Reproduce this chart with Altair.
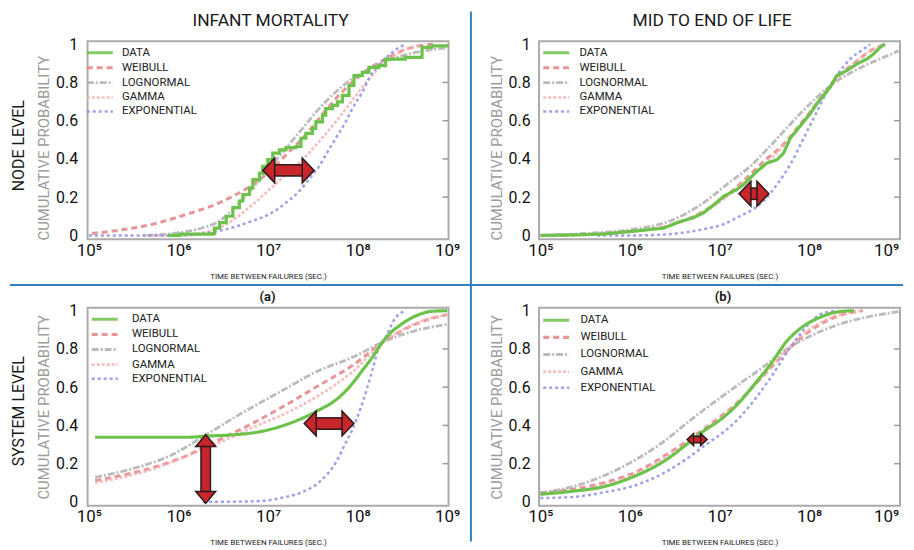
import altair as alt
import pandas as pd

# ---------------- values (x as log10 of seconds) -------------
SERIES = ["DATA", "WEIBULL", "LOGNORMAL", "GAMMA", "EXPONENTIAL"]
COLORS = ["#6cc24a", "#e28484", "#b0b0b0", "#f4b3b3", "#8e8ee6"]
DASHES = [[1, 0], [6, 4], [7, 2, 2, 2], [3, 2], [3, 3]]
WIDTHS = [3.2, 2.5, 2.5, 1.3, 2.2]

X_TICKS = [5, 6, 7, 8, 9]
X_TICK_LABELS = ["10⁵", "10⁶", "10⁷", "10⁸", "10⁹"]
Y_TICKS = [0, 0.2, 0.4, 0.6, 0.8, 1]
Y_TICK_LABELS = ["0", "0.2", "0.4", "0.6", "0.8", "1"]

COL_TITLES = ["INFANT MORTALITY", "MID TO END OF LIFE"]
ROW_TITLES = ["NODE LEVEL", "SYSTEM LEVEL"]
SUB_LABELS = ["(a)", "(b)"]
Y_TITLE = "CUMULATIVE PROBABILITY"
X_TITLE = "TIME BETWEEN FAILURES (SEC.)"

# Panel A: node level, infant mortality
A_DATA_X = [5.885, 6.015, 6.385, 6.404, 6.459, 6.533, 6.607, 6.681, 6.719, 6.793, 6.83, 6.904, 6.941,
            6.996, 7.052, 7.126, 7.2, 7.311, 7.367, 7.422, 7.496, 7.533, 7.607, 7.644, 7.719, 7.774,
            7.83, 7.904, 7.959, 8.052, 8.126, 8.237, 8.311, 8.533, 8.681, 8.719, 8.83, 9.0]
A_DATA_Y = [0.0, 0.007, 0.01, 0.038, 0.067, 0.10, 0.145, 0.18, 0.214, 0.249, 0.292, 0.326, 0.361,
            0.396, 0.43, 0.447, 0.459, 0.465, 0.508, 0.534, 0.56, 0.594, 0.629, 0.663, 0.68, 0.698,
            0.732, 0.784, 0.836, 0.853, 0.879, 0.888, 0.922, 0.931, 0.931, 0.983, 0.991, 1.0]
A_WEIBULL_X = [5.033, 5.348, 5.719, 6.089, 6.459, 6.644, 6.83, 7.015, 7.2, 7.385, 7.57, 7.756, 7.941,
               8.126, 8.311, 8.496, 8.681, 8.867]
A_WEIBULL_Y = [0.01, 0.028, 0.059, 0.11, 0.171, 0.214, 0.266, 0.335, 0.421, 0.508, 0.611, 0.715, 0.801,
               0.87, 0.922, 0.965, 0.991, 1.0]
A_LOGNORMAL_X = [5.644, 6.0, 6.274, 6.459, 6.644, 6.83, 7.015, 7.2, 7.385, 7.57, 7.756, 7.941, 8.126,
                 8.311, 8.68, 9.0]
A_LOGNORMAL_Y = [0.0, 0.014, 0.04, 0.076, 0.154, 0.249, 0.352, 0.456, 0.56, 0.663, 0.75, 0.82, 0.87,
                 0.91, 0.96, 0.98]
A_GAMMA_X = [5.6, 6.0, 6.459, 6.644, 6.83, 7.015, 7.2, 7.385, 7.57, 7.756, 7.941, 8.126, 8.311, 8.496, 8.68]
A_GAMMA_Y = [0.0, 0.0, 0.041, 0.093, 0.162, 0.24, 0.318, 0.396, 0.491, 0.594, 0.706, 0.819, 0.905, 0.965, 0.995]
A_EXPO_X = [5.0, 5.644, 6.0, 6.459, 6.83, 7.015, 7.2, 7.348, 7.496, 7.57, 7.644, 7.756, 7.867, 7.941,
            8.052, 8.126, 8.237, 8.385, 8.533]
A_EXPO_Y = [0.0, 0.0, 0.0, 0.024, 0.076, 0.111, 0.171, 0.231, 0.317, 0.361, 0.421, 0.508, 0.594, 0.663,
            0.749, 0.819, 0.888, 0.957, 1.0]

# Panel B: node level, mid to end of life
B_DATA_X = [5.004, 5.338, 5.709, 6.081, 6.378, 6.526, 6.712, 6.824, 6.936, 7.047, 7.121, 7.195, 7.269,
            7.344, 7.418, 7.529, 7.641, 7.715, 7.789, 7.864, 7.938, 8.012, 8.086, 8.161, 8.235, 8.309,
            8.421, 8.532, 8.643, 8.718, 8.792, 8.848]
B_DATA_Y = [0.0, 0.002, 0.007, 0.024, 0.038, 0.067, 0.093, 0.119, 0.16, 0.205, 0.223, 0.24, 0.266,
            0.301, 0.335, 0.378, 0.396, 0.43, 0.508, 0.551, 0.594, 0.637, 0.689, 0.732, 0.775, 0.836,
            0.862, 0.896, 0.922, 0.948, 0.983, 1.0]
B_WEIBULL_X = [5.0, 5.5, 6.0, 6.5, 7.0, 7.3, 7.5, 7.7, 7.9, 8.1, 8.3, 8.5, 8.7, 8.85]
B_WEIBULL_Y = [0.0, 0.005, 0.02, 0.06, 0.18, 0.3, 0.39, 0.47, 0.58, 0.7, 0.82, 0.9, 0.97, 1.0]
B_LOGNORMAL_X = [5.0, 5.5, 6.0, 6.45, 6.82, 7.08, 7.34, 7.57, 7.94, 8.23, 8.5, 8.68, 9.0]
B_LOGNORMAL_Y = [0.0, 0.01, 0.03, 0.076, 0.17, 0.266, 0.36, 0.47, 0.655, 0.78, 0.86, 0.9, 0.965]
B_GAMMA_X = [5.0, 5.5, 6.0, 6.5, 7.0, 7.3, 7.5, 7.7, 7.9, 8.1, 8.3, 8.5, 8.7, 8.85]
B_GAMMA_Y = [0.0, 0.005, 0.02, 0.06, 0.175, 0.29, 0.37, 0.46, 0.57, 0.69, 0.81, 0.9, 0.97, 1.0]
B_EXPO_X = [5.635, 6.081, 6.452, 6.824, 7.047, 7.195, 7.344, 7.492, 7.641, 7.789, 7.938, 8.086, 8.198,
            8.309, 8.458, 8.606, 8.681]
B_EXPO_Y = [0.0, 0.0, 0.007, 0.033, 0.059, 0.093, 0.128, 0.18, 0.266, 0.37, 0.508, 0.646, 0.75,
            0.836, 0.922, 0.974, 1.0]

# Panel C: system level, infant mortality
C_DATA_X = [5.07, 6.089, 6.311, 6.644, 6.83, 7.015, 7.2, 7.385, 7.57, 7.756, 7.941, 8.052, 8.163,
            8.274, 8.348, 8.459, 8.57, 8.681, 8.83, 9.0]
C_DATA_Y = [0.338, 0.338, 0.344, 0.352, 0.361, 0.378, 0.404, 0.438, 0.481, 0.533, 0.619, 0.687, 0.756,
            0.833, 0.876, 0.919, 0.954, 0.979, 0.997, 1.0]
C_WEIBULL_X = [5.07, 5.348, 5.719, 6.089, 6.459, 6.83, 7.2, 7.57, 7.941, 8.311, 8.681, 9.0]
C_WEIBULL_Y = [0.112, 0.137, 0.18, 0.241, 0.326, 0.412, 0.507, 0.61, 0.713, 0.845, 0.936, 0.98]
C_LOGNORMAL_X = [5.07, 5.533, 5.904, 6.311, 6.644, 7.126, 7.57, 7.941, 8.311, 8.681, 9.0]
C_LOGNORMAL_Y = [0.129, 0.18, 0.241, 0.352, 0.447, 0.574, 0.687, 0.756, 0.842, 0.9, 0.928]
C_GAMMA_X = [5.07, 5.7, 6.089, 6.459, 6.83, 7.2, 7.57, 7.941, 8.311, 8.681, 9.0]
C_GAMMA_Y = [0.1, 0.17, 0.24, 0.31, 0.39, 0.464, 0.558, 0.68, 0.845, 0.94, 0.98]
C_EXPO_X = [6.274, 6.83, 7.2, 7.385, 7.57, 7.756, 7.867, 7.941, 8.052, 8.163, 8.237, 8.311, 8.422, 8.533]
C_EXPO_Y = [0.0, 0.003, 0.026, 0.052, 0.103, 0.206, 0.309, 0.378, 0.515, 0.687, 0.808, 0.86, 0.962, 1.0]

# Panel D: system level, mid to end of life
D_DATA_X = [5.0, 5.34, 5.71, 6.08, 6.3, 6.45, 6.67, 6.82, 7.01, 7.2, 7.38, 7.57, 7.75, 7.94, 8.12, 8.31, 8.5]
D_DATA_Y = [0.04, 0.055, 0.08, 0.14, 0.19, 0.235, 0.315, 0.37, 0.43, 0.51, 0.61, 0.72, 0.84, 0.92,
            0.965, 0.993, 1.0]
D_WEIBULL_X = [5.0, 5.34, 5.71, 6.08, 6.45, 6.82, 7.2, 7.57, 7.94, 8.31, 8.6]
D_WEIBULL_Y = [0.045, 0.065, 0.1, 0.16, 0.26, 0.38, 0.52, 0.7, 0.87, 0.97, 1.0]
D_LOGNORMAL_X = [5.0, 5.41, 5.86, 6.3, 6.75, 7.2, 7.5, 7.75, 7.94, 8.31, 8.68, 9.0]
D_LOGNORMAL_Y = [0.048, 0.086, 0.17, 0.29, 0.455, 0.61, 0.71, 0.8, 0.85, 0.925, 0.97, 0.995]
D_GAMMA_X = [5.0, 5.71, 6.08, 6.45, 6.82, 7.2, 7.57, 7.94, 8.31, 8.6]
D_GAMMA_Y = [0.04, 0.09, 0.15, 0.25, 0.37, 0.515, 0.7, 0.88, 0.975, 1.0]
D_EXPO_X = [5.0, 5.34, 5.71, 6.08, 6.45, 6.82, 7.2, 7.57, 7.75, 7.94, 8.12, 8.3]
D_EXPO_Y = [0.02, 0.025, 0.05, 0.09, 0.17, 0.29, 0.43, 0.65, 0.78, 0.9, 0.98, 1.0]

# Red double arrows: (from, to, at) in data units
A_ARROWS_H = [(6.941, 7.515, 0.34)]
B_ARROWS_H = [(7.217, 7.551, 0.218)]
C_ARROWS_H = [(7.404, 7.959, 0.41)]
C_ARROWS_V = [(6.304, -0.008, 0.352)]
D_ARROWS_H = [(6.638, 6.861, 0.326)]

RIGHT_TICKS = [0.2, 0.4, 0.6, 0.8]

# ---------------- styling -------------
FONT = "Roboto"
W, H = 363, 199
XDOM = [4.985, 9.015]
YDOM = [-0.02, 1.015]
RED = "#c9252c"
DARK = "#2a1a1a"
BLUE = "#2f7fc1"


def label_expr(values, labels):
    expr = "''"
    for v, lab in reversed(list(zip(values, labels))):
        expr = f"datum.value == {v} ? '{lab}' : ({expr})"
    return expr


XEXPR = label_expr(X_TICKS, X_TICK_LABELS)
YEXPR = label_expr(Y_TICKS, Y_TICK_LABELS)


def x_axis(right):
    kw = dict(values=X_TICKS, labelExpr=XEXPR, title=X_TITLE, grid=False, ticks=False, domain=False,
              labelFont=FONT, labelFontSize=17, labelColor="#111", labelPadding=3,
              titleFont=FONT, titleFontSize=8, titleFontWeight="normal", titleColor="#222",
              titlePadding=14)
    if right:
        kw["labelAlign"] = {"condition": {"test": "datum.value == 9", "value": "right"}, "value": "center"}
    return alt.Axis(**kw)


def y_axis(title_y, right):
    kw = dict(values=Y_TICKS, labelExpr=YEXPR, title=Y_TITLE, grid=False, ticks=False, domain=False,
              labelFont=FONT, labelFontSize=16, labelColor="#111", labelPadding=9 if right else 10,
              titleFont=FONT, titleFontSize=15, titleFontWeight="normal", titleColor="#9c9c9c",
              titlePadding=4)
    if title_y is not None:
        kw["titleY"] = title_y
    return alt.Axis(**kw)


def build_df(pairs):
    rows = []
    for name, (xs, ys) in zip(SERIES, pairs):
        for i, (x, y) in enumerate(zip(xs, ys)):
            rows.append({"series": name, "lx": x, "p": y, "i": i})
    return pd.DataFrame(rows)


def text_layer(txt, x, y, size, weight="normal", angle=0, color="#1a1a1a"):
    mk = dict(font=FONT, fontSize=size, fontWeight=weight, color=color, align="center", baseline="middle")
    if angle:
        mk["angle"] = angle
    return alt.Chart(pd.DataFrame({"t": [txt]})).mark_text(**mk).encode(
        text="t:N", x=alt.value(x), y=alt.value(y))


def panel(pairs, data_interp, leg, title, title_pos, title_size, title_weight, title_y,
          right, h_arrows, v_arrows, row_label=None, row_label_y=105, dividers=False):
    XS = alt.Scale(domain=XDOM, nice=False, zero=False)
    YS = alt.Scale(domain=YDOM, nice=False, zero=False)
    xa = x_axis(right)
    ya = y_axis(title_y, right)

    def xe(f):
        return alt.X(f"{f}:Q", scale=XS, axis=xa)

    def ye(f):
        return alt.Y(f"{f}:Q", scale=YS, axis=ya)

    legend = alt.Legend(orient="none", legendX=leg[0], legendY=leg[1], title=None,
                        symbolType="M -1.9 0 H 1.9", symbolSize=190, labelOffset=leg[2],
                        rowPadding=leg[3], labelFont=FONT, labelFontSize=11.5, labelColor="#222",
                        padding=0)
    enc = dict(
        x=xe("lx"), y=ye("p"),
        color=alt.Color("series:N", scale=alt.Scale(domain=SERIES, range=COLORS), legend=legend),
        strokeDash=alt.StrokeDash("series:N", scale=alt.Scale(domain=SERIES, range=DASHES), legend=legend),
        strokeWidth=alt.StrokeWidth("series:N", scale=alt.Scale(domain=SERIES, range=WIDTHS), legend=legend),
        order=alt.Order("i:Q"),
    )
    df = build_df(pairs)
    fits = alt.Chart(df[df.series != "DATA"]).mark_line(interpolate="monotone", opacity=0.85).encode(**enc)
    data = alt.Chart(df[df.series == "DATA"]).mark_line(interpolate=data_interp).encode(**enc)

    layers = [fits, data]

    ticks = alt.Chart(pd.DataFrame({"p": RIGHT_TICKS})).mark_rule(color="#9a9a9a", strokeWidth=1.5).encode(
        y=ye("p"), x=alt.value(W - 6), x2=alt.value(W))
    layers.append(ticks)

    for (x1, x2, y) in h_arrows:
        adf = pd.DataFrame({"lx": [x1], "lx2": [x2], "p": [y]})
        span = (x2 - x1) * 90
        hl, hh, sw = (12, 12.5, 10) if span > 25 else (6.5, 6, 5)
        L = hl / hh
        size = (2 * hh) ** 2
        inset = hl * 0.8
        base = alt.Chart(adf)
        layers.append(base.mark_rule(color=DARK, strokeWidth=sw + 3, strokeCap="butt", xOffset=inset,
                                     x2Offset=-inset).encode(x=xe("lx"), x2="lx2:Q", y=ye("p")))
        layers.append(base.mark_rule(color=RED, strokeWidth=sw, strokeCap="butt", xOffset=inset,
                                     x2Offset=-inset).encode(x=xe("lx"), x2="lx2:Q", y=ye("p")))
        layers.append(base.mark_point(shape=f"M {L:.3f} -1 L 0 0 L {L:.3f} 1 Z", size=size, filled=True,
                                      fill=RED, stroke=DARK, strokeWidth=1.5, opacity=1).encode(
            x=xe("lx"), y=ye("p")))
        layers.append(base.mark_point(shape=f"M {-L:.3f} -1 L 0 0 L {-L:.3f} 1 Z", size=size, filled=True,
                                      fill=RED, stroke=DARK, strokeWidth=1.5, opacity=1).encode(
            x=xe("lx2"), y=ye("p")))

    for (x, y1, y2) in v_arrows:
        adf = pd.DataFrame({"lx": [x], "p": [y1], "p2": [y2]})
        hl, hh, sw = 12, 10, 8
        L = hl / hh
        size = (2 * hh) ** 2
        inset = hl * 0.8
        base = alt.Chart(adf)
        layers.append(base.mark_rule(color=DARK, strokeWidth=sw + 3, strokeCap="butt", yOffset=-inset,
                                     y2Offset=inset).encode(x=xe("lx"), y=ye("p"), y2="p2:Q"))
        layers.append(base.mark_rule(color=RED, strokeWidth=sw, strokeCap="butt", yOffset=-inset,
                                     y2Offset=inset).encode(x=xe("lx"), y=ye("p"), y2="p2:Q"))
        layers.append(base.mark_point(shape=f"M -1 {-L:.3f} L 0 0 L 1 {-L:.3f} Z", size=size, filled=True,
                                      fill=RED, stroke=DARK, strokeWidth=1.5, opacity=1).encode(
            x=xe("lx"), y=ye("p")))
        layers.append(base.mark_point(shape=f"M -1 {L:.3f} L 0 0 L 1 {L:.3f} Z", size=size, filled=True,
                                      fill=RED, stroke=DARK, strokeWidth=1.5, opacity=1).encode(
            x=xe("lx"), y=ye("p2")))

    # panel title as text (above the plot area)
    layers.append(text_layer(title, title_pos[0], title_pos[1], title_size, title_weight))

    if row_label is not None:
        layers.append(text_layer(row_label, -68.5, row_label_y, 16, angle=270))

    if dividers:
        one = pd.DataFrame({"k": [0]})
        layers.append(alt.Chart(one).mark_rule(color=BLUE, strokeWidth=2).encode(
            x=alt.value(385.5), y=alt.value(-30), y2=alt.value(503)))
        layers.append(alt.Chart(one).mark_rule(color=BLUE, strokeWidth=2).encode(
            x=alt.value(-78), x2=alt.value(820), y=alt.value(245)))

    return alt.layer(*layers).properties(width=W, height=H)


pA = panel([(A_DATA_X, A_DATA_Y), (A_WEIBULL_X, A_WEIBULL_Y), (A_LOGNORMAL_X, A_LOGNORMAL_Y),
            (A_GAMMA_X, A_GAMMA_Y), (A_EXPO_X, A_EXPO_Y)],
           "step-after", (3.8, 3.0, 13.8, -0.4), COL_TITLES[0], (184, -20), 17.5, "normal", 107,
           False, A_ARROWS_H, [], row_label=ROW_TITLES[0], row_label_y=105, dividers=True)
pB = panel([(B_DATA_X, B_DATA_Y), (B_WEIBULL_X, B_WEIBULL_Y), (B_LOGNORMAL_X, B_LOGNORMAL_Y),
            (B_GAMMA_X, B_GAMMA_Y), (B_EXPO_X, B_EXPO_Y)],
           "linear", (8.8, 3.0, 14.8, -0.2), COL_TITLES[1], (174, -20), 17.5, "normal", 107,
           True, B_ARROWS_H, [])
pC = panel([(C_DATA_X, C_DATA_Y), (C_WEIBULL_X, C_WEIBULL_Y), (C_LOGNORMAL_X, C_LOGNORMAL_Y),
            (C_GAMMA_X, C_GAMMA_Y), (C_EXPO_X, C_EXPO_Y)],
           "monotone", (8.8, 3.0, 18.8, 0.2), SUB_LABELS[0], (181, -10.5), 13, "bold", None,
           False, C_ARROWS_H, C_ARROWS_V, row_label=ROW_TITLES[1], row_label_y=104)
pD = panel([(D_DATA_X, D_DATA_Y), (D_WEIBULL_X, D_WEIBULL_Y), (D_LOGNORMAL_X, D_LOGNORMAL_Y),
            (D_GAMMA_X, D_GAMMA_Y), (D_EXPO_X, D_EXPO_Y)],
           "monotone", (8.8, 4.0, 15.8, 2.2), SUB_LABELS[1], (185, -10.5), 13, "bold", None,
           True, D_ARROWS_H, [])

chart = alt.concat(pA, pB, pC, pD, columns=2, spacing={"row": 69, "column": 91}, bounds="flush").resolve_scale(
    color="independent", strokeDash="independent", strokeWidth="independent"
).properties(padding=0).configure_view(stroke="#ababab", strokeWidth=2)

chart.save("out.html", embed_options={"renderer": "svg", "actions": False})
